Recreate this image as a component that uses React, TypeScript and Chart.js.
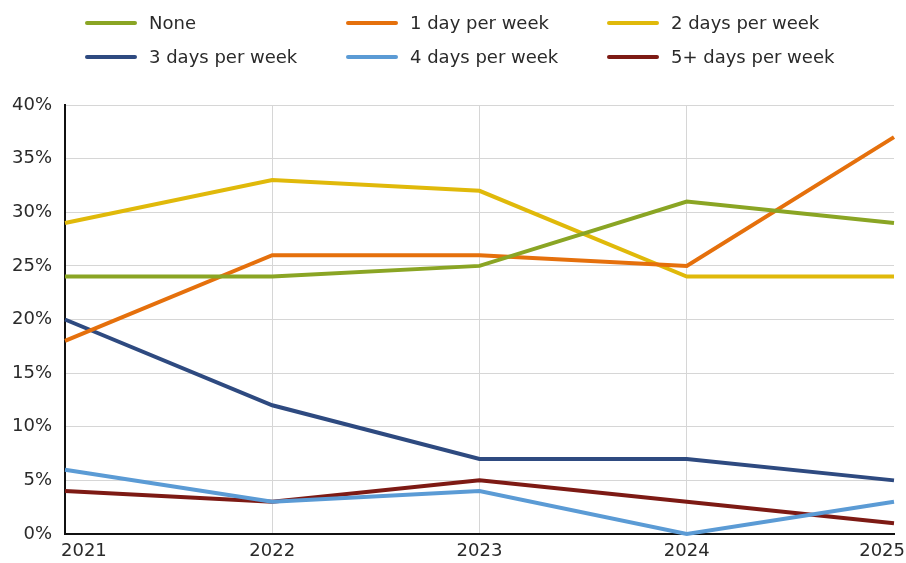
import React, { useEffect, useRef } from "react";
import { Chart, registerables } from "chart.js";

Chart.register(...registerables);

const years = ["2021", "2022", "2023", "2024", "2025"];
const yTicks = [0, 5, 10, 15, 20, 25, 30, 35, 40];

const seriesNames = [
  "None",
  "1 day per week",
  "2 days per week",
  "3 days per week",
  "4 days per week",
  "5+ days per week",
];

const noneValues = [24, 24, 25, 31, 29];
const oneDayValues = [18, 26, 26, 25, 37];
const twoDaysValues = [29, 33, 32, 24, 24];
const threeDaysValues = [20, 12, 7, 7, 5];
const fourDaysValues = [6, 3, 4, 0, 3];
const fivePlusValues = [4, 3, 5, 3, 1];

const seriesColors = ["#8aa524", "#e5700c", "#e0b90a", "#2e4a80", "#5b9bd5", "#7d1a14"];

const FONT = "'DejaVu Sans', 'Liberation Sans', sans-serif";
const FONT_SIZE = 18;
const TEXT_COLOR = "#2a2a2a";

// Legend drawn as a fixed 3-column grid above the plot
const gridLegend = {
  id: "gridLegend",
  afterDraw(chart: any) {
    const ctx = chart.ctx;
    ctx.save();
    ctx.font = `${FONT_SIZE}px ${FONT}`;
    ctx.textBaseline = "middle";
    ctx.textAlign = "left";
    const colX = [87, 348, 609];
    const rowY = [23, 57];
    chart.data.datasets.forEach((ds: any, i: number) => {
      const x = colX[i % 3];
      const y = rowY[Math.floor(i / 3)];
      ctx.strokeStyle = ds.borderColor;
      ctx.lineWidth = 4;
      ctx.lineCap = "round";
      ctx.beginPath();
      ctx.moveTo(x, y);
      ctx.lineTo(x + 48, y);
      ctx.stroke();
      ctx.fillStyle = TEXT_COLOR;
      ctx.fillText(ds.label, x + 62, y + 1);
    });
    ctx.restore();
  },
};

// Year labels under the x axis; the end labels are kept inside the canvas
const yearLabels = {
  id: "yearLabels",
  afterDraw(chart: any) {
    const ctx = chart.ctx;
    const xs = chart.scales.x;
    const bottom = chart.chartArea.bottom;
    ctx.save();
    ctx.font = `${FONT_SIZE}px ${FONT}`;
    ctx.fillStyle = TEXT_COLOR;
    ctx.textBaseline = "middle";
    const n = chart.data.labels.length;
    chart.data.labels.forEach((lab: string, i: number) => {
      const x = xs.getPixelForValue(i);
      if (i === 0) {
        ctx.textAlign = "left";
        ctx.fillText(lab, x - 4, bottom + 17);
      } else if (i === n - 1) {
        ctx.textAlign = "right";
        ctx.fillText(lab, chart.width - 1, bottom + 17);
      } else {
        ctx.textAlign = "center";
        ctx.fillText(lab, x, bottom + 17);
      }
    });
    ctx.restore();
  },
};

export default function App() {
  const canvasRef = useRef<HTMLCanvasElement | null>(null);

  useEffect(() => {
    document.body.style.margin = "0";
    const allValues = [
      noneValues,
      oneDayValues,
      twoDaysValues,
      threeDaysValues,
      fourDaysValues,
      fivePlusValues,
    ];
    const chart = new Chart(canvasRef.current as HTMLCanvasElement, {
      type: "line",
      data: {
        labels: years,
        datasets: allValues.map((vals, i) => ({
          label: seriesNames[i],
          data: vals,
          borderColor: seriesColors[i],
          backgroundColor: seriesColors[i],
          borderWidth: 4,
          pointRadius: 0,
          tension: 0,
          fill: false,
          clip: 4,
        })),
      },
      options: {
        animation: false,
        responsive: false,
        maintainAspectRatio: false,
        layout: { padding: { top: 105, right: 12, left: 0, bottom: 0 } },
        plugins: {
          legend: { display: false },
          tooltip: { enabled: false },
        },
        scales: {
          x: {
            type: "category",
            offset: false,
            grid: {
              color: (c: any) => (c.index === years.length - 1 ? "rgba(0,0,0,0)" : "#d6d6d6"),
              lineWidth: 1,
              drawTicks: false,
            },
            border: { display: true, color: "#111", width: 2 },
            ticks: { display: false },
            afterFit: (s: any) => {
              s.height = 29;
            },
          },
          y: {
            min: 0,
            max: 40,
            afterBuildTicks: (s: any) => {
              s.ticks = yTicks.map((v) => ({ value: v }));
            },
            grid: { color: "#d6d6d6", lineWidth: 1, drawTicks: false },
            border: { display: true, color: "#111", width: 2 },
            ticks: {
              padding: 13,
              color: TEXT_COLOR,
              font: { family: FONT, size: FONT_SIZE },
              callback: (v: any) => `${v}%`,
            },
            afterFit: (s: any) => {
              s.width = 65;
            },
          },
        },
      },
      plugins: [gridLegend, yearLabels],
    });
    return () => chart.destroy();
  }, []);

  return (
    <div style={{ width: 906, height: 563 }}>
      <canvas ref={canvasRef} width={906} height={563} style={{ display: "block" }} />
    </div>
  );
}
